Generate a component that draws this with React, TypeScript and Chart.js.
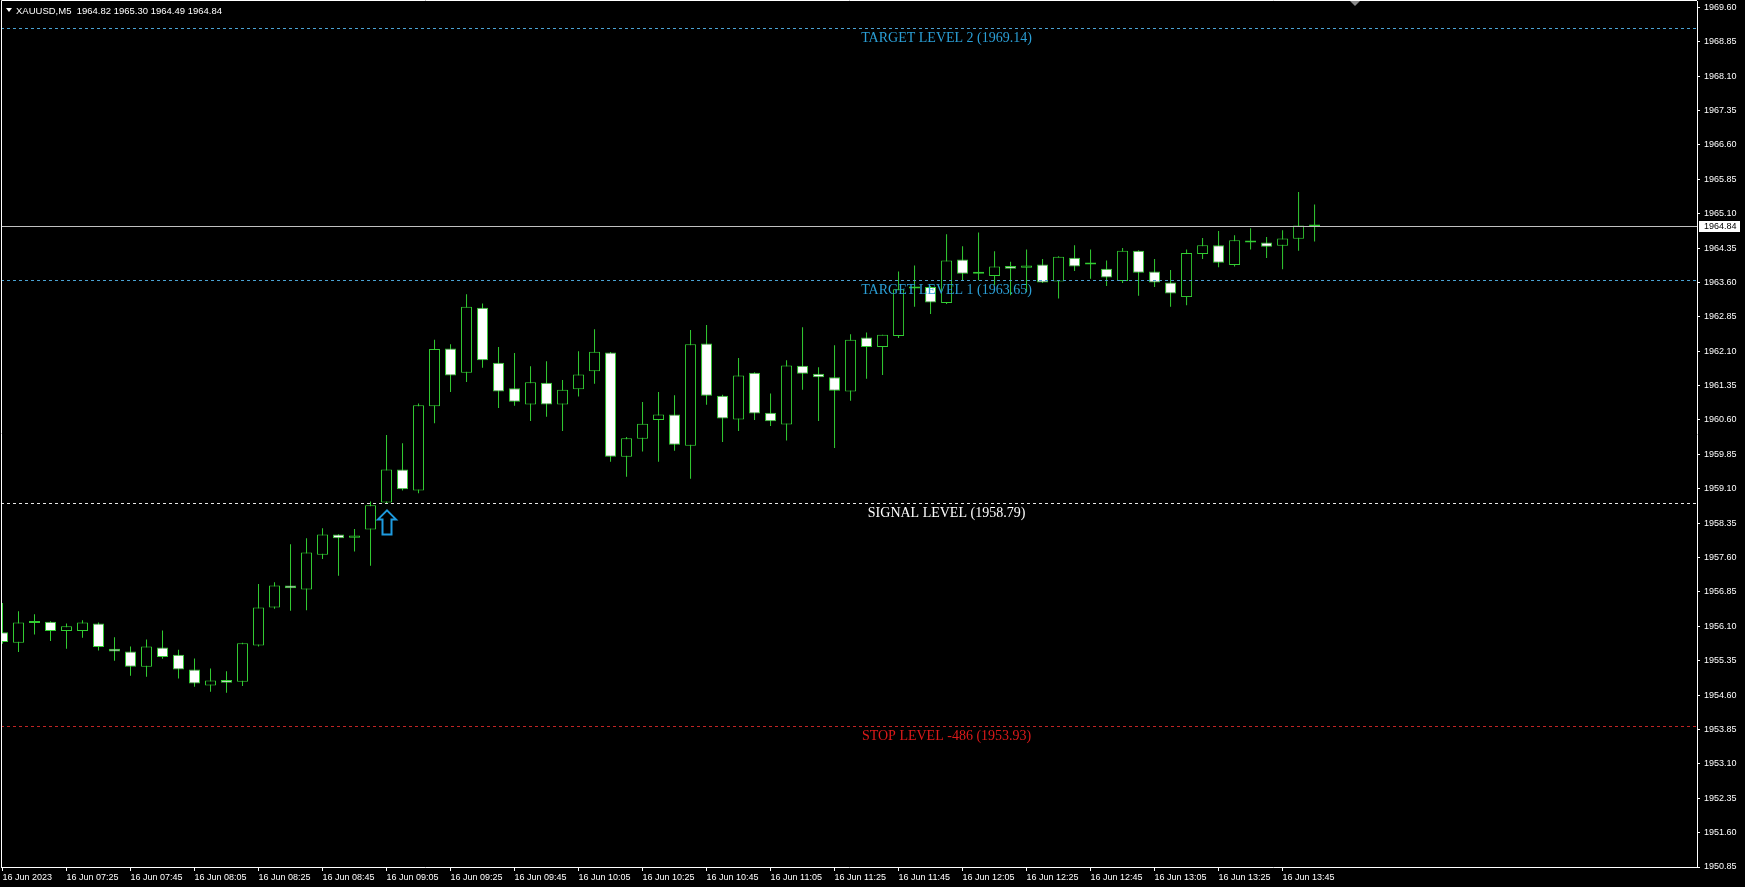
import React, { useEffect, useRef } from "react";
import { Chart, registerables } from "chart.js";

Chart.register(...registerables);

// ---------------- DATA ----------------
const symbolTitle = "XAUUSD,M5";

const opens = [
  1955.97, 1955.74, 1956.17, 1956.2, 1956.0, 1956.0, 1956.16, 1955.61, 1955.55, 1955.22,
  1955.64, 1955.48, 1955.16, 1954.81, 1954.93, 1954.89, 1955.68, 1956.51, 1956.99, 1956.9,
  1957.66, 1958.1, 1958.03, 1958.21, 1958.8, 1959.52, 1959.06, 1960.9, 1962.16, 1961.63,
  1963.05, 1961.85, 1961.29, 1960.94, 1961.41, 1960.94, 1961.27, 1961.66, 1962.07, 1959.8,
  1960.19, 1960.6, 1960.72, 1960.04, 1962.27, 1961.13, 1960.61, 1961.63, 1960.76, 1960.5,
  1961.78, 1961.61, 1961.53, 1961.22, 1962.4, 1962.19, 1962.43, 1963.47, 1963.5, 1963.15,
  1964.1, 1963.79, 1963.74, 1963.96, 1963.92, 1963.99, 1963.62, 1964.14, 1963.99, 1963.9,
  1963.63, 1964.29, 1963.84, 1963.6, 1963.28, 1964.22, 1964.41, 1963.98, 1964.51, 1964.47,
  1964.4, 1964.55, 1964.82,
];
const highs = [
  1956.61, 1956.43, 1956.36, 1956.21, 1956.16, 1956.23, 1956.18, 1955.86, 1955.66, 1955.81,
  1956.01, 1955.59, 1955.4, 1955.18, 1955.12, 1955.74, 1957.02, 1957.06, 1957.89, 1958.02,
  1958.24, 1958.11, 1958.22, 1958.82, 1960.27, 1960.09, 1960.96, 1962.35, 1962.25, 1963.34,
  1963.14, 1962.19, 1962.06, 1961.77, 1961.88, 1961.47, 1962.1, 1962.58, 1962.08, 1960.23,
  1960.99, 1961.21, 1961.14, 1962.56, 1962.67, 1961.15, 1961.95, 1961.64, 1961.18, 1961.9,
  1962.62, 1961.75, 1962.23, 1962.47, 1962.51, 1962.46, 1963.84, 1963.97, 1963.52, 1964.65,
  1964.39, 1964.69, 1964.28, 1964.05, 1964.32, 1964.11, 1964.17, 1964.41, 1964.32, 1964.08,
  1964.35, 1964.3, 1964.11, 1963.87, 1964.32, 1964.57, 1964.72, 1964.63, 1964.78, 1964.59,
  1964.74, 1965.57, 1965.3,
];
const lows = [
  1955.72, 1955.54, 1955.92, 1955.78, 1955.61, 1955.85, 1955.57, 1955.35, 1955.02, 1955.0,
  1955.39, 1954.96, 1954.78, 1954.67, 1954.65, 1954.8, 1955.66, 1956.48, 1956.44, 1956.45,
  1957.57, 1957.2, 1957.73, 1957.42, 1958.78, 1959.06, 1959.0, 1960.53, 1961.21, 1961.43,
  1961.74, 1960.86, 1960.91, 1960.58, 1960.67, 1960.36, 1961.11, 1961.39, 1959.69, 1959.36,
  1959.91, 1959.69, 1959.93, 1959.32, 1960.93, 1960.12, 1960.36, 1960.6, 1960.47, 1960.15,
  1961.26, 1960.58, 1959.99, 1961.02, 1961.5, 1961.58, 1962.39, 1963.07, 1962.91, 1963.13,
  1963.64, 1963.65, 1963.54, 1963.32, 1963.39, 1963.59, 1963.25, 1963.85, 1963.68, 1963.52,
  1963.59, 1963.31, 1963.5, 1963.07, 1963.1, 1964.11, 1963.93, 1963.95, 1964.32, 1964.13,
  1963.89, 1964.29, 1964.49,
];
const closes = [
  1955.76, 1956.18, 1956.2, 1956.0, 1956.1, 1956.18, 1955.65, 1955.55, 1955.22, 1955.66,
  1955.43, 1955.16, 1954.85, 1954.92, 1954.87, 1955.73, 1956.51, 1956.99, 1956.93, 1957.71,
  1958.1, 1958.02, 1958.08, 1958.74, 1959.52, 1959.09, 1960.92, 1962.15, 1961.57, 1963.07,
  1961.9, 1961.22, 1961.0, 1961.42, 1960.94, 1961.26, 1961.59, 1962.09, 1959.8, 1960.2,
  1960.52, 1960.72, 1960.06, 1962.25, 1961.13, 1960.63, 1961.57, 1960.74, 1960.57, 1961.79,
  1961.61, 1961.53, 1961.24, 1962.35, 1962.19, 1962.46, 1963.45, 1963.49, 1963.16, 1964.08,
  1963.79, 1963.81, 1963.95, 1963.9, 1963.97, 1963.6, 1964.16, 1963.95, 1964.0, 1963.71,
  1964.29, 1963.81, 1963.6, 1963.36, 1964.24, 1964.41, 1964.03, 1964.52, 1964.47, 1964.38,
  1964.56, 1964.84, 1964.84,
];

const tickLabels = [
  "16 Jun 2023", "16 Jun 07:25", "16 Jun 07:45", "16 Jun 08:05", "16 Jun 08:25",
  "16 Jun 08:45", "16 Jun 09:05", "16 Jun 09:25", "16 Jun 09:45", "16 Jun 10:05",
  "16 Jun 10:25", "16 Jun 10:45", "16 Jun 11:05", "16 Jun 11:25", "16 Jun 11:45",
  "16 Jun 12:05", "16 Jun 12:25", "16 Jun 12:45", "16 Jun 13:05", "16 Jun 13:25",
  "16 Jun 13:45",
];
const barsPerTick = 4;

const priceTicks = [
  1950.85, 1951.6, 1952.35, 1953.1, 1953.85, 1954.6, 1955.35, 1956.1, 1956.85, 1957.6,
  1958.35, 1959.1, 1959.85, 1960.6, 1961.35, 1962.1, 1962.85, 1963.6, 1964.35, 1965.1,
  1965.85, 1966.6, 1967.35, 1968.1, 1968.85, 1969.6,
];

const levelNames = [
  "TARGET LEVEL 2 (1969.14)",
  "TARGET LEVEL 1 (1963.65)",
  "SIGNAL LEVEL (1958.79)",
  "STOP LEVEL -486 (1953.93)",
];
const levelValues = [1969.14, 1963.65, 1958.79, 1953.93];
const levelLabelBar = 59;
const signalBar = 24;

// view range
const xMin = -0.094;
const xMax = 105.9;
const yMin = 1950.85;
const yMax = 1969.738;

// ---------------- STYLE ----------------
const GREEN = "#32cd32";
const BULL_FILL = "#000000";
const BEAR_FILL = "#ffffff";
const AXIS_TEXT = "#ffffff";
const AXIS_FONT = { family: "'Liberation Sans', Arial, sans-serif", size: 9 };
const levelTextColors = ["#2b9fd6", "#2b9fd6", "#ffffff", "#dd1a1a"];
const levelLineColors = ["#4aa3d3", "#4aa3d3", "#e8e8e8", "#c02424"];

const overlayPlugin = {
  id: "mtOverlay",
  afterDatasetsDraw(chart: any) {
    const { ctx, chartArea: a, scales } = chart;
    const x = scales.x;
    const y = scales.y;
    ctx.save();
    ctx.beginPath();
    ctx.rect(a.left, a.top, a.right - a.left, a.bottom - a.top);
    ctx.clip();

    // current price line
    const last = closes[closes.length - 1];
    const py = Math.round(y.getPixelForValue(last)) + 0.5;
    ctx.strokeStyle = "#c0c0c0";
    ctx.lineWidth = 1;
    ctx.setLineDash([]);
    ctx.beginPath();
    ctx.moveTo(a.left, py);
    ctx.lineTo(a.right, py);
    ctx.stroke();

    // level lines + labels
    levelValues.forEach((v, k) => {
      const ly = Math.round(y.getPixelForValue(v)) + 0.5;
      ctx.strokeStyle = levelLineColors[k];
      ctx.setLineDash([3, 3]);
      ctx.beginPath();
      ctx.moveTo(a.left, ly);
      ctx.lineTo(a.right, ly);
      ctx.stroke();
      ctx.setLineDash([]);
      ctx.font = "14px 'Liberation Serif', 'DejaVu Serif', serif";
      ctx.fillStyle = levelTextColors[k];
      ctx.textAlign = "center";
      ctx.textBaseline = "alphabetic";
      ctx.fillText(levelNames[k], x.getPixelForValue(levelLabelBar), ly + 13);
    });

    // signal arrow (hollow up arrow below the signal bar)
    const ax = Math.round(x.getPixelForValue(signalBar));
    const ay = y.getPixelForValue(lows[signalBar]) + 7;
    ctx.strokeStyle = "#1e9be0";
    ctx.lineWidth = 2;
    ctx.lineJoin = "miter";
    ctx.beginPath();
    ctx.moveTo(ax, ay);
    ctx.lineTo(ax + 9, ay + 9);
    ctx.lineTo(ax + 4.5, ay + 9);
    ctx.lineTo(ax + 4.5, ay + 24);
    ctx.lineTo(ax - 4.5, ay + 24);
    ctx.lineTo(ax - 4.5, ay + 9);
    ctx.lineTo(ax - 9, ay + 9);
    ctx.closePath();
    ctx.stroke();
    ctx.restore();
  },
  afterDraw(chart: any) {
    const { ctx, chartArea: a, scales } = chart;
    const x = scales.x;
    const y = scales.y;
    ctx.save();
    // frame (left and top)
    ctx.strokeStyle = "#ffffff";
    ctx.lineWidth = 1;
    ctx.beginPath();
    ctx.moveTo(a.left + 0.5, a.bottom);
    ctx.lineTo(a.left + 0.5, a.top - 0.5);
    ctx.lineTo(a.right, a.top - 0.5);
    ctx.stroke();

    // header
    ctx.fillStyle = "#ffffff";
    ctx.beginPath();
    ctx.moveTo(6, 8);
    ctx.lineTo(12, 8);
    ctx.lineTo(9, 12);
    ctx.closePath();
    ctx.fill();
    ctx.font = "9.5px 'Liberation Sans', Arial, sans-serif";
    ctx.textAlign = "left";
    ctx.textBaseline = "middle";
    const n = closes.length - 1;
    const header =
      symbolTitle +
      "  " +
      [opens[n], highs[n], lows[n], closes[n]].map((v) => v.toFixed(2)).join(" ");
    ctx.fillText(header, 16, 11);

    // chart shift marker
    const sx = Math.round(x.getPixelForValue(n + 2.5));
    ctx.fillStyle = "#8a8a8a";
    ctx.beginPath();
    ctx.moveTo(sx - 5, 1);
    ctx.lineTo(sx + 5, 1);
    ctx.lineTo(sx, 6);
    ctx.closePath();
    ctx.fill();

    // current price box on the axis
    ctx.font = "9px 'Liberation Sans', Arial, sans-serif";
    const py = Math.round(y.getPixelForValue(closes[n]));
    ctx.fillStyle = "#ffffff";
    ctx.fillRect(a.right + 2, py - 5, 41, 11);
    ctx.fillStyle = "#000000";
    ctx.textBaseline = "middle";
    ctx.fillText(closes[n].toFixed(2), a.right + 7, py + 0.5);
    ctx.restore();
  },
};

export default function App() {
  const canvasRef = useRef<HTMLCanvasElement | null>(null);

  useEffect(() => {
    const canvas = canvasRef.current;
    if (!canvas) return;
    const chart = new Chart(canvas, {
      type: "bar",
      data: {
        datasets: [
          {
            label: "wicks",
            data: lows.map((l, i) => ({ x: i, y: [l, highs[i]] })) as any,
            backgroundColor: GREEN,
            borderWidth: 0,
            barThickness: 1,
            grouped: false,
            order: 2,
            inflateAmount: 0,
            borderSkipped: false,
          } as any,
          {
            label: "bodies",
            data: opens.map((o, i) => ({ x: i, y: [o, closes[i]] })) as any,
            backgroundColor: opens.map((o, i) => (closes[i] >= o ? BULL_FILL : BEAR_FILL)),
            borderColor: GREEN,
            borderWidth: 1,
            borderSkipped: false,
            barThickness: 11,
            minBarLength: 2,
            grouped: false,
            order: 1,
            inflateAmount: 0,
          } as any,
        ],
      },
      options: {
        animation: false,
        responsive: false,
        maintainAspectRatio: false,
        devicePixelRatio: 1,
        events: [],
        layout: { padding: { left: 1, top: 1, right: 0, bottom: 0 } },
        plugins: {
          legend: { display: false },
          tooltip: { enabled: false },
          title: { display: false },
        },
        scales: {
          x: {
            type: "linear",
            min: xMin,
            max: xMax,
            offset: false,
            afterBuildTicks: (s: any) => {
              s.ticks = tickLabels.map((_, k) => ({ value: k * barsPerTick }));
            },
            afterFit: (s: any) => {
              s.height = 20;
              s.paddingLeft = 0;
              s.paddingRight = 0;
            },
            ticks: {
              autoSkip: false,
              maxRotation: 0,
              minRotation: 0,
              align: "start",
              padding: 1,
              color: AXIS_TEXT,
              font: AXIS_FONT,
              callback: (v: any) => tickLabels[Math.round(Number(v) / barsPerTick)] ?? "",
            },
            grid: {
              offset: false,
              drawOnChartArea: false,
              drawTicks: true,
              tickLength: 4,
              color: "#ffffff",
            },
            border: { display: true, color: "#ffffff", width: 1 },
          },
          y: {
            type: "linear",
            position: "right",
            min: yMin,
            max: yMax,
            afterBuildTicks: (s: any) => {
              s.ticks = priceTicks.map((v) => ({ value: v }));
            },
            afterFit: (s: any) => {
              s.width = 48;
              s.paddingTop = 0;
              s.paddingBottom = 0;
            },
            ticks: {
              autoSkip: false,
              padding: 4,
              color: AXIS_TEXT,
              font: AXIS_FONT,
              callback: (v: any) => Number(v).toFixed(2),
            },
            grid: {
              drawOnChartArea: false,
              drawTicks: true,
              tickLength: 3,
              color: "#ffffff",
            },
            border: { display: true, color: "#ffffff", width: 1 },
          },
        },
      },
      plugins: [overlayPlugin],
    } as any);
    return () => chart.destroy();
  }, []);

  return (
    <div
      style={{
        position: "fixed",
        left: 0,
        top: 0,
        width: 1745,
        height: 887,
        background: "#000000",
        overflow: "hidden",
      }}
    >
      <canvas ref={canvasRef} width={1745} height={887} style={{ display: "block", width: 1745, height: 887 }} />
    </div>
  );
}
